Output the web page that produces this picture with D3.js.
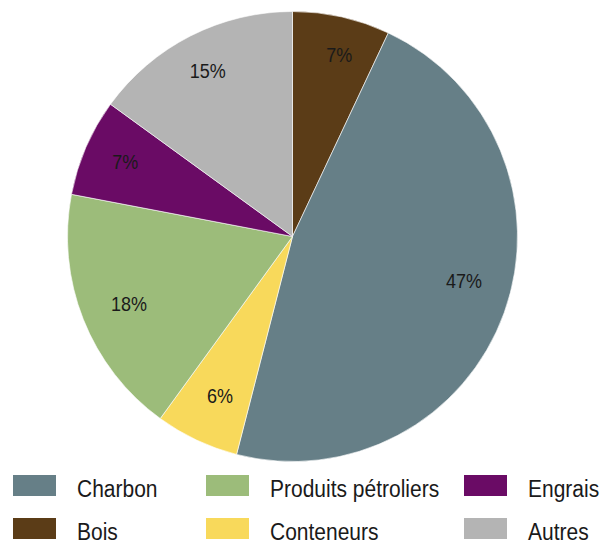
<!DOCTYPE html>
<html><head><meta charset="utf-8">
<script src="https://cdn.jsdelivr.net/npm/d3@7"></script>
<style>body{margin:0;background:#fff}svg{display:block}</style>
</head><body>
<svg id="c" width="600" height="545"></svg>
<script>
const categories = ["Bois","Charbon","Conteneurs","Produits pétroliers","Engrais","Autres"];
const values = [7,47,6,18,7,15];
const colors = ["#5b3c17","#667f87","#f8d95b","#9cbc7a","#6a0b65","#b4b4b4"];
const legendOrder = ["Charbon","Produits pétroliers","Engrais","Bois","Conteneurs","Autres"];

const svg = d3.select("#c");
const cx = 292.5, cy = 236.5, r = 225;
const color = d3.scaleOrdinal().domain(categories).range(colors);
const pie = d3.pie().sort(null).value(d => d.v);
const data = categories.map((c,i)=>({c, v: values[i]}));
const arcs = pie(data);
const arc = d3.arc().innerRadius(0).outerRadius(r);
const labelArc = d3.arc().innerRadius(r*0.81).outerRadius(r*0.81);
// small layout nudges for label placement (px)
const nudge = {"Bois":[7,-4],"Charbon":[0,-17],"Conteneurs":[5,-5],"Produits pétroliers":[6,0],"Engrais":[0,-2],"Autres":[-2,-3]};

const g = svg.append("g").attr("transform",`translate(${cx},${cy})`);
g.selectAll("path").data(arcs).join("path")
  .attr("d", arc).attr("fill", d => color(d.data.c))
  .attr("stroke","#ffffff").attr("stroke-width",0.6);
g.selectAll("text").data(arcs).join("text")
  .attr("transform", d => { const p = labelArc.centroid(d), n = nudge[d.data.c]||[0,0];
      return `translate(${p[0]+n[0]},${p[1]+n[1]}) scale(1,1.08)`; })
  .attr("text-anchor","middle").attr("dy","0.36em")
  .attr("font-family","Liberation Sans, Arial, sans-serif")
  .attr("font-size","18px").attr("fill","#1a1a1a")
  .text(d => d.data.v + "%");

const colX = [13, 206, 464];
const rowY = [475, 518];
const lg = svg.append("g");
legendOrder.forEach((c,i)=>{
  const col = i % 3, row = Math.floor(i/3);
  lg.append("rect").attr("x", colX[col]).attr("y", rowY[row])
    .attr("width", 43).attr("height", 21).attr("fill", color(c));
  lg.append("text")
    .attr("transform", `translate(${colX[col]+64},${rowY[row]+21.5}) scale(1,1.1)`)
    .attr("font-family","Liberation Sans, Arial, sans-serif")
    .attr("font-size","21px").attr("fill","#1a1a1a").text(c);
});
</script>
</body></html>
